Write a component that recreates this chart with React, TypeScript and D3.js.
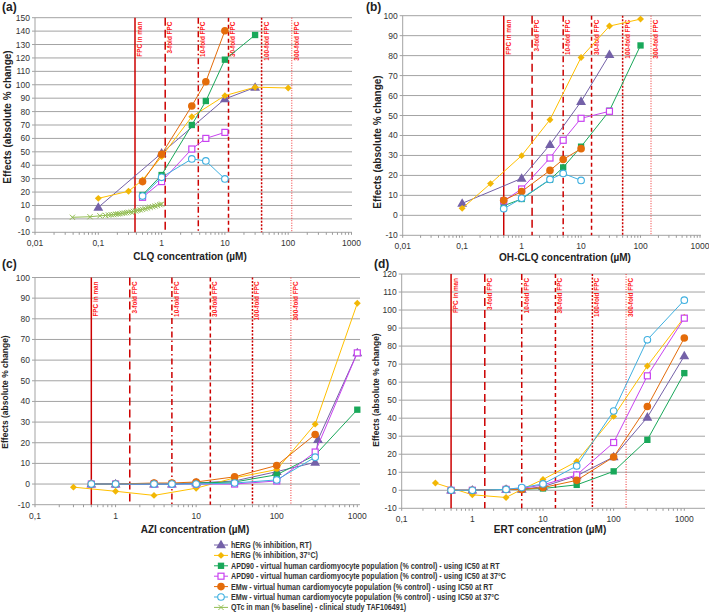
import React, { useEffect, useRef } from 'react';
import * as d3 from 'd3';

type Pt = [number, number];

// --- (a) CLQ ---
const clqHergRT: Pt[] = [[0.1, 8.6], [1, 49], [10, 89.4], [30, 98]];
const clqHerg37: Pt[] = [[0.1, 15.3], [0.3, 20.6], [0.5, 29], [1, 46.4], [3, 76.2], [10, 91.9], [30, 98.2], [100, 97.6]];
const clqApdRT: Pt[] = [[0.5, 17.8], [1, 32.7], [3, 70], [5, 87.9], [10, 118.7], [30, 137.1]];
const clqApd37: Pt[] = [[0.5, 16.1], [1, 27.8], [3, 52.1], [5, 60], [10, 64.5]];
const clqEmwRT: Pt[] = [[0.5, 27.8], [1, 48.2], [3, 84.2], [5, 102.3], [10, 140.3]];
const clqEmw37: Pt[] = [[0.5, 17], [1, 31], [3, 44.7], [5, 43.2], [10, 29.8]];
const clqQtc: Pt[] = [
  [0.039, 1.2], [0.074, 1.6], [0.106, 2.3], [0.13, 2.6], [0.145, 2.9], [0.16, 3.1], [0.175, 3.2],
  [0.19, 3.5], [0.205, 3.7], [0.22, 3.9], [0.24, 4.2], [0.26, 4.4], [0.28, 4.6], [0.3, 4.9],
  [0.33, 5.2], [0.36, 5.6], [0.39, 5.9], [0.42, 6.3], [0.46, 6.7], [0.5, 7.1], [0.55, 7.6],
  [0.6, 8.1], [0.66, 8.6], [0.72, 9.1], [0.79, 9.6], [0.86, 10.1], [0.94, 10.6], [1.0, 11],
];

// --- (b) OH-CLQ ---
const ohHergRT: Pt[] = [[0.1, 6], [1, 18.5], [3, 35.4], [10, 57], [30, 80.5]];
const ohHerg37: Pt[] = [[0.1, 3.5], [0.3, 15.9], [1, 29.9], [3, 47.9], [10, 79.1], [30, 94.8], [100, 98.3]];
const ohApdRT: Pt[] = [[0.5, 4.8], [1, 8.2], [3, 17.9], [5, 24], [10, 34.4], [30, 52.4], [100, 85.1]];
const ohApd37: Pt[] = [[0.5, 7.2], [1, 13.2], [3, 28.7], [5, 37.6], [10, 48.6], [30, 52.1]];
const ohEmwRT: Pt[] = [[0.5, 7.5], [1, 11.9], [3, 22.5], [5, 28], [10, 33.4]];
const ohEmw37: Pt[] = [[0.5, 3.3], [1, 8.5], [3, 18], [5, 21], [10, 17.5]];

// --- (c) AZI ---
const aziHergRT: Pt[] = [[0.5, 0], [1, 0], [3, 0], [5, 0], [10, 0.5], [30, 1.5], [100, 6], [300, 10.5], [325, 21.5], [1000, 63.5]];
const aziHerg37: Pt[] = [[0.3, -1.5], [1, -3.5], [3, -5.5], [10, -2], [30, 3], [100, 7], [300, 29], [1000, 87.5]];
const aziApdRT: Pt[] = [[0.5, 0], [1, 0], [3, 0], [5, 0], [10, 0.5], [30, 1], [100, 4.5], [300, 14], [1000, 36]];
const aziApd37: Pt[] = [[0.5, 0], [1, 0], [3, 0], [5, 0], [10, 0], [30, 0], [100, 1.5], [300, 15.5], [1000, 63.5]];
const aziEmwRT: Pt[] = [[0.5, 0], [1, 0], [3, 0.5], [5, 0.5], [10, 1], [30, 3.5], [100, 9], [300, 24]];
const aziEmw37: Pt[] = [[0.5, 0], [1, 0], [3, 0], [5, 0], [10, 0], [30, 0.5], [100, 2], [300, 13]];

// --- (d) ERT ---
const ertHergRT: Pt[] = [[0.5, 0], [1, 0], [3, 0.5], [5, 0.5], [10, 2], [30, 8], [100, 18.5], [300, 40.5], [1000, 74.5]];
const ertHerg37: Pt[] = [[0.3, 4], [1, -2.5], [3, -4], [5, 0.5], [10, 6], [30, 16], [100, 41], [300, 69], [1000, 96]];
const ertApdRT: Pt[] = [[0.5, 0], [1, 0], [3, 0.5], [5, 0.5], [10, 1], [30, 3], [100, 10.5], [300, 28], [1000, 65]];
const ertApd37: Pt[] = [[0.5, 0], [1, 0], [3, 0.5], [5, 1], [10, 3], [30, 8.5], [100, 26.5], [300, 63.5], [1000, 95.5]];
const ertEmwRT: Pt[] = [[0.5, 0], [1, 0], [3, 0.5], [5, 0.5], [10, 1.5], [30, 5.5], [100, 18.5], [300, 46.5], [1000, 84.5]];
const ertEmw37: Pt[] = [[0.5, 0], [1, 0], [3, 0.5], [5, 1.5], [10, 3.5], [30, 13.5], [100, 44], [300, 83.5], [1000, 105.5]];

const refFolds = [1, 3, 10, 30, 100, 300];
const refLabels = ['FPC in man', '3-fold FPC', '10-fold FPC', '30-fold FPC', '100-fold FPC', '300-fold FPC'];
const refDash = ['', '8,4', '6,3,1.5,3', '4,3', '2,1.5', '1,1.5'];

const seriesStyles = [
  { label: 'hERG (% inhibition, RT)', color: '#7461a8', marker: 'triangle' },
  { label: 'hERG (% inhibition, 37°C)', color: '#ffc000', marker: 'diamond' },
  { label: 'APD90 - virtual human cardiomyocyte population (% control) - using IC50 at RT', color: '#19a85a', marker: 'square' },
  { label: 'APD90 - virtual human cardiomyocyte population (% control) - using IC50 at 37°C', color: '#c842f0', marker: 'osquare' },
  { label: 'EMw - virtual human cardiomyocyte population (% control) - using IC50 at RT', color: '#e46c0a', marker: 'circle' },
  { label: 'EMw - virtual human cardiomyocyte population (% control) - using IC50 at 37°C', color: '#3fb0e0', marker: 'ocircle' },
  { label: 'QTc in man (% baseline) - clinical study TAF106491)', color: '#92bd52', marker: 'x' },
];

const panels = [
  {
    letter: '(a)', lx: 2, ly: 11,
    xDomain: [0.01, 1000], xRange: [35, 351.5], gridRight: 352,
    yDomain: [-10, 150], yRange: [232.3, 17.7],
    xTicks: [0.01, 0.1, 1, 10, 100, 1000],
    xTitle: 'CLQ concentration  (µM)', xtX: 190, xtY: 260,
    ytX: 8, ytY: 117, ytSize: 10,
    fpc: 0.38,
    data: [clqHergRT, clqHerg37, clqApdRT, clqApd37, clqEmwRT, clqEmw37, clqQtc],
  },
  {
    letter: '(b)', lx: 366, ly: 11,
    xDomain: [0.01, 1000], xRange: [402.7, 700], gridRight: 701,
    yDomain: [-10, 100], yRange: [235.3, 15.7],
    xTicks: [0.01, 0.1, 1, 10, 100, 1000],
    xTitle: 'OH-CLQ concentration (µM)', xtX: 565, xtY: 260.5,
    ytX: 378, ytY: 142, ytSize: 10,
    fpc: 0.5,
    data: [ohHergRT, ohHerg37, ohApdRT, ohApd37, ohEmwRT, ohEmw37],
  },
  {
    letter: '(c)', lx: 2, ly: 268,
    xDomain: [0.1, 1000], xRange: [35, 357.3], gridRight: 360,
    yDomain: [-10, 100], yRange: [504.7, 277.5],
    xTicks: [0.1, 1, 10, 100, 1000],
    xTitle: 'AZI concentration (µM)', xtX: 195, xtY: 533,
    ytX: 6, ytY: 392, ytSize: 8.5,
    fpc: 0.5,
    data: [aziHergRT, aziHerg37, aziApdRT, aziApd37, aziEmwRT, aziEmw37],
  },
  {
    letter: '(d)', lx: 374, ly: 268,
    xDomain: [0.1, 1000], xRange: [401.7, 684.3], gridRight: 705,
    yDomain: [-10, 120], yRange: [508.3, 274],
    xTicks: [0.1, 1, 10, 100, 1000],
    xTitle: 'ERT concentration (µM)', xtX: 550, xtY: 533,
    ytX: 377, ytY: 390, ytSize: 8.5,
    fpc: 0.5,
    data: [ertHergRT, ertHerg37, ertApdRT, ertApd37, ertEmwRT, ertEmw37],
  },
];

const FONT = "'Liberation Sans', Arial, sans-serif";

// squeeze a text to mimic the narrow Calibri-like face of the original
function squeeze(t: d3.Selection<SVGTextElement, unknown, null, undefined>, factor: number) {
  const node = t.node();
  if (!node) return;
  const len = node.getComputedTextLength();
  t.attr('textLength', len * factor).attr('lengthAdjust', 'spacingAndGlyphs');
}

function drawMarker(g: d3.Selection<SVGGElement, unknown, null, undefined>, type: string, x: number, y: number, color: string) {
  if (type === 'triangle') {
    g.append('path').attr('d', d3.symbol().type(d3.symbolTriangle).size(42)()).attr('transform', `translate(${x},${y + 0.5})`).attr('fill', color);
  } else if (type === 'diamond') {
    g.append('path').attr('d', d3.symbol().type(d3.symbolSquare).size(24)()).attr('transform', `translate(${x},${y}) rotate(45)`).attr('fill', '#f2b705');
  } else if (type === 'square') {
    g.append('path').attr('d', d3.symbol().type(d3.symbolSquare).size(40)()).attr('transform', `translate(${x},${y})`).attr('fill', color);
  } else if (type === 'osquare') {
    g.append('rect').attr('x', x - 3).attr('y', y - 3).attr('width', 6).attr('height', 6).attr('fill', '#fff').attr('stroke', color).attr('stroke-width', 1.2);
  } else if (type === 'circle') {
    g.append('circle').attr('cx', x).attr('cy', y).attr('r', 3.8).attr('fill', color);
  } else if (type === 'ocircle') {
    g.append('circle').attr('cx', x).attr('cy', y).attr('r', 3.3).attr('fill', '#fff').attr('stroke', color).attr('stroke-width', 1.1);
  } else if (type === 'x') {
    g.append('path').attr('d', `M${x - 2.6},${y - 2.6}L${x + 2.6},${y + 2.6}M${x - 2.6},${y + 2.6}L${x + 2.6},${y - 2.6}`).attr('stroke', color).attr('stroke-width', 1);
  }
}

const App: React.FC = () => {
  const svgRef = useRef<SVGSVGElement | null>(null);

  useEffect(() => {
    if (!svgRef.current) return;
    const svg = d3.select(svgRef.current);
    svg.selectAll('*').remove();

    panels.forEach(p => {
      const x = d3.scaleLog().domain(p.xDomain).range(p.xRange);
      const y = d3.scaleLinear().domain(p.yDomain).range(p.yRange);
      const g = svg.append('g');
      const left = p.xRange[0];
      const right = p.gridRight;
      const top = p.yRange[1];
      const bottom = p.yRange[0];

      // panel letter
      g.append('text').attr('x', p.lx).attr('y', p.ly).attr('font-family', FONT).attr('font-weight', 'bold').attr('font-size', 12).attr('fill', '#222').text(p.letter);

      // horizontal grid + y labels
      const yTicks = d3.range(p.yDomain[0], p.yDomain[1] + 1, 10);
      g.selectAll('.hg').data(yTicks).enter().append('line')
        .attr('x1', left - 3).attr('x2', right).attr('y1', d => y(d)).attr('y2', d => y(d))
        .attr('stroke', '#a3a3a3').attr('stroke-width', 1);
      g.selectAll('.yl').data(yTicks).enter().append('text')
        .attr('x', left - 5).attr('y', d => y(d) + 3).attr('text-anchor', 'end')
        .attr('font-family', FONT).attr('font-size', 8.5).attr('fill', '#333').text(d => d);

      // y axis line
      g.append('line').attr('x1', left).attr('x2', left).attr('y1', top).attr('y2', bottom).attr('stroke', '#a3a3a3');

      // minor ticks on x
      const maxVal = x.invert(right);
      const minor: number[] = [];
      for (let e = Math.log10(p.xDomain[0]); e < 4; e++) {
        for (let k = 1; k <= 9; k++) {
          const v = k * Math.pow(10, e);
          if (v >= p.xDomain[0] && v <= maxVal) minor.push(v);
        }
      }
      g.selectAll('.mt').data(minor).enter().append('line')
        .attr('x1', d => x(d)).attr('x2', d => x(d)).attr('y1', bottom).attr('y2', bottom + 2.5)
        .attr('stroke', '#999');
      g.selectAll('.xl').data(p.xTicks).enter().append('text')
        .attr('x', d => x(d)).attr('y', bottom + 14).attr('text-anchor', 'middle')
        .attr('font-family', FONT).attr('font-size', 8.5).attr('fill', '#333')
        .text(d => String(d).replace('.', ','));

      // axis titles
      g.append('text').attr('x', p.xtX).attr('y', p.xtY).attr('text-anchor', 'middle')
        .attr('font-family', FONT).attr('font-weight', 'bold').attr('font-size', 10).attr('fill', '#222').text(p.xTitle);
      g.append('text').attr('transform', `translate(${p.ytX},${p.ytY}) rotate(-90)`).attr('text-anchor', 'middle')
        .attr('dominant-baseline', 'middle')
        .attr('font-family', FONT).attr('font-weight', 'bold').attr('font-size', p.ytSize).attr('fill', '#222')
        .text('Effects (absolute % change)');

      // FPC reference lines
      refFolds.forEach((f, i) => {
        const xv = x(p.fpc * f);
        g.append('line').attr('x1', xv).attr('x2', xv).attr('y1', top).attr('y2', bottom)
          .attr('stroke', i === 5 ? '#f03030' : '#cc0000').attr('stroke-width', i === 5 ? 1 : 1.5)
          .attr('stroke-dasharray', refDash[i] || null);
        const t = g.append('text').attr('transform', `translate(${xv + 5},${top + 4}) rotate(-90)`)
          .attr('text-anchor', 'end').attr('dominant-baseline', 'middle')
          .attr('font-family', FONT).attr('font-weight', 'bold').attr('font-size', 7.5).attr('fill', '#ff1a1a')
          .text(refLabels[i]);
        squeeze(t, 0.85);
      });

      // series
      const line = d3.line<Pt>().x(d => x(d[0])).y(d => y(d[1]));
      p.data.forEach((pts, si) => {
        const st = seriesStyles[si];
        const sg = g.append('g');
        sg.append('path').datum(pts).attr('d', line).attr('fill', 'none').attr('stroke', st.color).attr('stroke-width', 1);
        pts.forEach(d => drawMarker(sg, st.marker, x(d[0]), y(d[1]), st.color));
      });
    });

    // legend
    const lg = svg.append('g');
    seriesStyles.forEach((st, i) => {
      const yy = 545 + i * 10.4;
      lg.append('line').attr('x1', 214).attr('x2', 228).attr('y1', yy).attr('y2', yy).attr('stroke', st.color).attr('stroke-width', 1);
      drawMarker(lg, st.marker, 221, yy, st.color);
      const t = lg.append('text').attr('x', 231).attr('y', yy + 3).attr('font-family', FONT).attr('font-weight', 'bold')
        .attr('font-size', 8.5).attr('fill', '#333').text(st.label);
      squeeze(t, 0.84);
    });
  }, []);

  return (
    <div style={{ position: 'absolute', left: 0, top: 0, width: 709, height: 616, background: '#fff' }}>
      <svg ref={svgRef} width={709} height={616}></svg>
    </div>
  );
};

export default App;
